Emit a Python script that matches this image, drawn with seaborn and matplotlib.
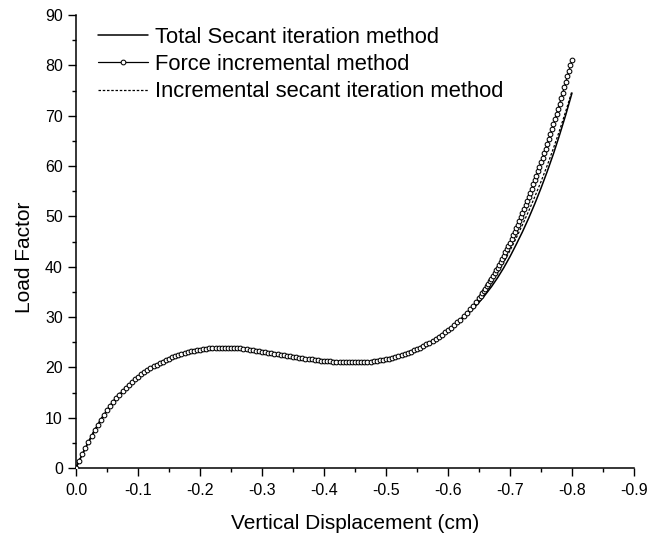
import matplotlib
matplotlib.use("Agg")
import matplotlib.pyplot as plt
from matplotlib.ticker import MultipleLocator, FormatStrFormatter
import seaborn as sns
import pandas as pd

# ---------------- data ----------------
disp_lines = [0.00, -0.01, -0.02, -0.03, -0.04, -0.05, -0.06, -0.07, -0.08, -0.09,
              -0.10, -0.11, -0.12, -0.13, -0.14, -0.15, -0.16, -0.17, -0.18, -0.19,
              -0.20, -0.21, -0.22, -0.23, -0.24, -0.25, -0.26, -0.27, -0.28, -0.29,
              -0.30, -0.31, -0.32, -0.33, -0.34, -0.35, -0.36, -0.37, -0.38, -0.39,
              -0.40, -0.41, -0.42, -0.43, -0.44, -0.45, -0.46, -0.47, -0.48, -0.49,
              -0.50, -0.51, -0.52, -0.53, -0.54, -0.55, -0.56, -0.57, -0.58, -0.59,
              -0.60, -0.61, -0.62, -0.63, -0.64, -0.65, -0.66, -0.67, -0.68, -0.69,
              -0.70, -0.71, -0.72, -0.73, -0.74, -0.75, -0.76, -0.77, -0.78, -0.79,
              -0.80]

load_total_secant = [0.0, 2.7, 5.1, 7.4, 9.5, 11.4, 13.0, 14.4, 15.7, 16.9,
                     17.9, 18.8, 19.6, 20.3, 20.9, 21.4, 21.9, 22.3, 22.7, 23.0,
                     23.2, 23.4, 23.5, 23.6, 23.6, 23.6, 23.5, 23.4, 23.2, 23.0,
                     22.8, 22.6, 22.4, 22.2, 22.0, 21.8, 21.6, 21.4, 21.3, 21.1,
                     21.0, 20.9, 20.8, 20.7, 20.7, 20.7, 20.7, 20.8, 20.9, 21.1,
                     21.3, 21.6, 21.9, 22.3, 22.8, 23.3, 23.9, 24.6, 25.4, 26.3,
                     27.3, 28.3, 29.3, 30.4, 31.6, 32.9, 34.4, 36.0, 37.8, 39.8,
                     42.0, 44.4, 46.9, 49.6, 52.5, 55.6, 58.9, 62.4, 66.2, 70.2,
                     74.5]

load_incr_secant = [0.0, 2.7, 5.2, 7.6, 9.7, 11.6, 13.3, 14.8, 16.1, 17.3,
                    18.3, 19.2, 20.0, 20.7, 21.3, 21.9, 22.4, 22.8, 23.2, 23.5,
                    23.7, 23.9, 24.0, 24.1, 24.1, 24.1, 24.0, 23.9, 23.7, 23.5,
                    23.3, 23.1, 22.9, 22.7, 22.5, 22.3, 22.1, 21.9, 21.8, 21.6,
                    21.5, 21.4, 21.3, 21.2, 21.2, 21.2, 21.2, 21.3, 21.4, 21.6,
                    21.8, 22.1, 22.4, 22.8, 23.3, 23.8, 24.4, 25.1, 25.8, 26.6,
                    27.5, 28.45, 29.5, 30.7, 32.0, 33.4, 35.0, 36.8, 38.8, 40.9,
                    43.2, 45.7, 48.3, 51.0, 53.9, 56.9, 60.1, 63.5, 67.1, 70.9,
                    74.9]

disp_force = [0.000, -0.005, -0.010, -0.015, -0.020, -0.025, -0.030, -0.035, -0.040, -0.045,
              -0.050, -0.055, -0.060, -0.065, -0.070, -0.075, -0.080, -0.085, -0.090, -0.095,
              -0.100, -0.105, -0.110, -0.115, -0.120, -0.125, -0.130, -0.135, -0.140, -0.145,
              -0.150, -0.155, -0.160, -0.165, -0.170, -0.175, -0.180, -0.185, -0.190, -0.195,
              -0.200, -0.205, -0.210, -0.215, -0.220, -0.225, -0.230, -0.235, -0.240, -0.245,
              -0.250, -0.255, -0.260, -0.265, -0.270, -0.275, -0.280, -0.285, -0.290, -0.295,
              -0.300, -0.305, -0.310, -0.315, -0.320, -0.325, -0.330, -0.335, -0.340, -0.345,
              -0.350, -0.355, -0.360, -0.365, -0.370, -0.375, -0.380, -0.385, -0.390, -0.395,
              -0.400, -0.405, -0.410, -0.415, -0.420, -0.425, -0.430, -0.435, -0.440, -0.445,
              -0.450, -0.455, -0.460, -0.465, -0.470, -0.475, -0.480, -0.485, -0.490, -0.495,
              -0.500, -0.505, -0.510, -0.515, -0.520, -0.525, -0.530, -0.535, -0.540, -0.545,
              -0.550, -0.555, -0.560, -0.565, -0.570, -0.575, -0.580, -0.585, -0.590, -0.595,
              -0.600, -0.605, -0.610, -0.615, -0.620, -0.625, -0.630, -0.635, -0.640, -0.645,
              -0.6500, -0.6525, -0.6550, -0.6575, -0.6600, -0.6625, -0.6650, -0.6675,
              -0.6700, -0.6725, -0.6750, -0.6775, -0.6800, -0.6825, -0.6850, -0.6875,
              -0.6900, -0.6925, -0.6950, -0.6975, -0.7000, -0.7025, -0.7050, -0.7075,
              -0.7100, -0.7125, -0.7150, -0.7175, -0.7200, -0.7225, -0.7250, -0.7275,
              -0.7300, -0.7325, -0.7350, -0.7375, -0.7400, -0.7425, -0.7450, -0.7475,
              -0.7500, -0.7525, -0.7550, -0.7575, -0.7600, -0.7625, -0.7650, -0.7675,
              -0.7700, -0.7725, -0.7750, -0.7775, -0.7800, -0.7825, -0.7850, -0.7875,
              -0.7900, -0.7925, -0.7950, -0.7975, -0.8000]

load_force = [0.0, 1.4, 2.7, 4.0, 5.2, 6.4, 7.5, 8.6, 9.6, 10.6,
              11.5, 12.3, 13.1, 13.9, 14.6, 15.3, 15.9, 16.5, 17.1, 17.6,
              18.1, 18.6, 19.0, 19.4, 19.8, 20.2, 20.5, 20.8, 21.1, 21.4,
              21.7, 22.0, 22.2, 22.4, 22.6, 22.8, 23.0, 23.15, 23.3, 23.4,
              23.5, 23.6, 23.7, 23.75, 23.8, 23.85, 23.9, 23.9, 23.9, 23.9,
              23.9, 23.85, 23.8, 23.75, 23.7, 23.6, 23.5, 23.4, 23.3, 23.2,
              23.1, 23.0, 22.9, 22.8, 22.7, 22.6, 22.5, 22.4, 22.3, 22.2,
              22.1, 22.0, 21.9, 21.8, 21.7, 21.65, 21.6, 21.5, 21.4, 21.35,
              21.3, 21.25, 21.2, 21.15, 21.1, 21.05, 21.0, 21.0, 21.0, 21.0,
              21.0, 21.0, 21.0, 21.05, 21.1, 21.15, 21.2, 21.3, 21.4, 21.5,
              21.6, 21.75, 21.9, 22.05, 22.2, 22.4, 22.6, 22.85, 23.1, 23.35,
              23.6, 23.9, 24.2, 24.55, 24.9, 25.25, 25.6, 26.05, 26.5, 26.95,
              27.4, 27.9, 28.4, 28.95, 29.5, 30.15, 30.8, 31.5, 32.2, 33.0,
              33.8, 34.25, 34.7, 35.15, 35.6, 36.1, 36.6, 37.1,
              37.6, 38.15, 38.7, 39.25, 39.8, 40.4, 41.0, 41.6,
              42.2, 42.85, 43.5, 44.15, 44.8, 45.5, 46.2, 46.9,
              47.6, 48.35, 49.1, 49.85, 50.6, 51.4, 52.2, 53.0,
              53.8, 54.65, 55.5, 56.35, 57.2, 58.1, 58.95, 59.8,
              60.7, 61.6, 62.55, 63.45, 64.4, 65.35, 66.35, 67.3,
              68.3, 69.3, 70.35, 71.35, 72.4, 73.45, 74.55, 75.6,
              76.7, 77.8, 78.9, 80.0, 81.1]

labels = ["Total Secant iteration method",
          "Force incremental method",
          "Incremental secant iteration method"]
x_ticks = [0.0, -0.1, -0.2, -0.3, -0.4, -0.5, -0.6, -0.7, -0.8, -0.9]
y_ticks = [0, 10, 20, 30, 40, 50, 60, 70, 80, 90]
x_label = "Vertical Displacement (cm)"
y_label = "Load Factor"

# ---------------- style ----------------
sns.set_theme(style="ticks")
plt.rcParams["font.family"] = ["Liberation Sans", "DejaVu Sans"]
plt.rcParams["axes.unicode_minus"] = False

fig = plt.figure(figsize=(6.49, 5.39), dpi=100)
ax = fig.add_axes([76 / 649, 1 - 468 / 539, (634 - 76) / 649, (468 - 15) / 539])

df_total = pd.DataFrame({"disp": disp_lines, "load": load_total_secant})
df_incr = pd.DataFrame({"disp": disp_lines, "load": load_incr_secant})
df_force = pd.DataFrame({"disp": disp_force, "load": load_force})

sns.lineplot(data=df_total, x="disp", y="load", ax=ax, sort=False,
             color="black", linewidth=1.1, label=labels[0], zorder=3)
sns.lineplot(data=df_force, x="disp", y="load", ax=ax, sort=False,
             color="black", linewidth=0.9, marker="o", markersize=3.4,
             markerfacecolor="white", markeredgecolor="black",
             markeredgewidth=0.75, label=labels[1], zorder=4)
sns.lineplot(data=df_incr, x="disp", y="load", ax=ax, sort=False,
             color="black", linewidth=0.9, linestyle=(0, (2.0, 1.4)),
             label=labels[2], zorder=2)

ax.set_xlim(0, -0.9)
ax.set_ylim(0, 90)
ax.set_xticks(x_ticks)
ax.set_yticks(y_ticks)
ax.xaxis.set_minor_locator(MultipleLocator(0.05))
ax.yaxis.set_minor_locator(MultipleLocator(5))
ax.xaxis.set_major_formatter(FormatStrFormatter("%.1f"))

for side in ["top", "right"]:
    ax.spines[side].set_visible(False)
for side in ["left", "bottom"]:
    ax.spines[side].set_linewidth(1.1)
    ax.spines[side].set_color("black")

ax.tick_params(axis="both", which="major", direction="out", length=5.5,
               width=1.0, color="black", labelsize=11.5, labelcolor="black")
ax.tick_params(axis="x", which="major", pad=5.5)
ax.tick_params(axis="y", which="major", pad=4)
ax.tick_params(axis="both", which="minor", direction="out", length=3,
               width=1.0, color="black")

ax.set_xlabel(x_label, fontsize=15, color="black", labelpad=11)
ax.set_ylabel(y_label, fontsize=15, color="black")
ax.yaxis.set_label_coords(-0.075, 0.465)

leg = ax.legend(loc="upper left", bbox_to_anchor=(98 / 649, 1 - 27 / 539),
                bbox_transform=fig.transFigure, frameon=False, fontsize=15.8,
                handlelength=2.3, handletextpad=0.32, labelspacing=0.28,
                borderpad=0, borderaxespad=0)
for t in leg.get_texts():
    t.set_color("black")

fig.savefig("out.png", dpi=100, facecolor="white")
